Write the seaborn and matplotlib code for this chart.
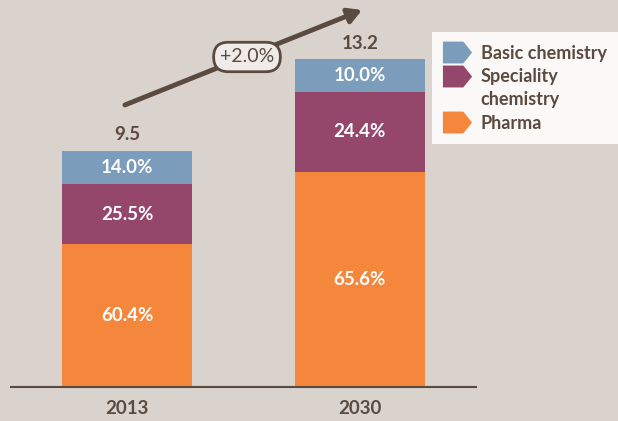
import pandas as pd
import numpy as np
import matplotlib
matplotlib.use("Agg")
import matplotlib.pyplot as plt
from matplotlib.lines import Line2D
from matplotlib.path import Path
import seaborn as sns

# data
years = ["2013", "2030"]
totals = [9.5, 13.2]
segments = ["Basic chemistry", "Speciality", "chemistry", "Pharma"]
basic_pct = [14.0, 10.0]
speciality_pct = [25.5, 24.4]
pharma_pct = [60.4, 65.6]
growth_label = "+2.0%"

bg = "#d9d2cd"
brown = "#5a4a3f"
c_basic = "#7b9cba"
c_spec = "#94476b"
c_pharma = "#f5873d"

sns.set_style("white", {"axes.facecolor": bg, "figure.facecolor": bg})
plt.rcParams["font.family"] = ["Lato", "DejaVu Sans"]

df = pd.DataFrame({"year": years, "total": totals,
                   "basic": basic_pct, "spec": speciality_pct, "pharma": pharma_pct})
df["pharma_v"] = df["total"] * df["pharma"] / 100
df["spec_top"] = df["pharma_v"] + df["total"] * df["spec"] / 100

fig = plt.figure(figsize=(6.18, 4.21), dpi=100)
ax = fig.add_axes([11 / 618, 1 - 387 / 421, 465 / 618, 387 / 421])

bw = 0.558
for col, c in [("total", c_basic), ("spec_top", c_spec), ("pharma_v", c_pharma)]:
    sns.barplot(data=df, x="year", y=col, color=c, width=bw, saturation=1,
                errorbar=None, linewidth=0, ax=ax)

ax.set_xlim(-0.5, 1.5)
ax.set_ylim(0, 387 / 24.85)
ax.set_xlabel("")
ax.set_ylabel("")
ax.set_yticks([])
for s in ["top", "right", "left"]:
    ax.spines[s].set_visible(False)
ax.spines["bottom"].set_color(brown)
ax.spines["bottom"].set_linewidth(1.5)
ax.tick_params(axis="x", length=0, pad=9, labelsize=13.5, labelcolor=brown)
for t in ax.get_xticklabels():
    t.set_fontweight("bold")

# segment labels
lab = dict(ha="center", va="center", color="white", fontsize=13.5, fontweight="bold")
for i, r in df.iterrows():
    ax.text(i, r["pharma_v"] / 2, f"{r['pharma']:.1f}%", **lab)
    ax.text(i, (r["pharma_v"] + r["spec_top"]) / 2, f"{r['spec']:.1f}%", **lab)
    ax.text(i, (r["spec_top"] + r["total"]) / 2, f"{r['basic']:.1f}%", **lab)
    ax.text(i, r["total"] + 0.3, f"{r['total']:.1f}", ha="center", va="bottom",
            color=brown, fontsize=13.5, fontweight="bold")

# growth arrow
ax.annotate("", xy=(1.01, 15.17), xytext=(-0.01, 11.35),
            arrowprops=dict(arrowstyle="-|>,head_length=0.8,head_width=0.45",
                            color=brown, lw=3.5, shrinkA=0, shrinkB=0),
            annotation_clip=False)
ax.text(0.515, 13.28, growth_label, ha="center", va="center", color=brown, fontsize=14,
        bbox=dict(boxstyle="round,pad=0.32,rounding_size=0.75", fc="#efebe8", ec=brown, lw=2))

# legend with arrow-shaped markers
tag = Path([(-1, -0.75), (0.4, -0.75), (1, 0), (0.4, 0.75), (-1, 0.75), (-1, -0.75)],
           [Path.MOVETO, Path.LINETO, Path.LINETO, Path.LINETO, Path.LINETO, Path.CLOSEPOLY])
handles = [Line2D([], [], marker=tag, linestyle="none", markersize=21,
                  markerfacecolor=c, markeredgecolor="none")
           for c in [c_basic, c_spec, "none", c_pharma]]
leg = fig.legend(handles, segments, loc="upper left", bbox_to_anchor=(432 / 618, 1 - 32 / 421),
                 frameon=True, fancybox=False, facecolor="#fbf9f8", edgecolor="none", framealpha=1,
                 handletextpad=0.6, labelspacing=0.35, borderpad=0.7, borderaxespad=0,
                 handlelength=1.4, prop={"size": 13, "weight": "bold"})
for t in leg.get_texts():
    t.set_color(brown)

fig.savefig("out.png", dpi=100, facecolor=bg)
